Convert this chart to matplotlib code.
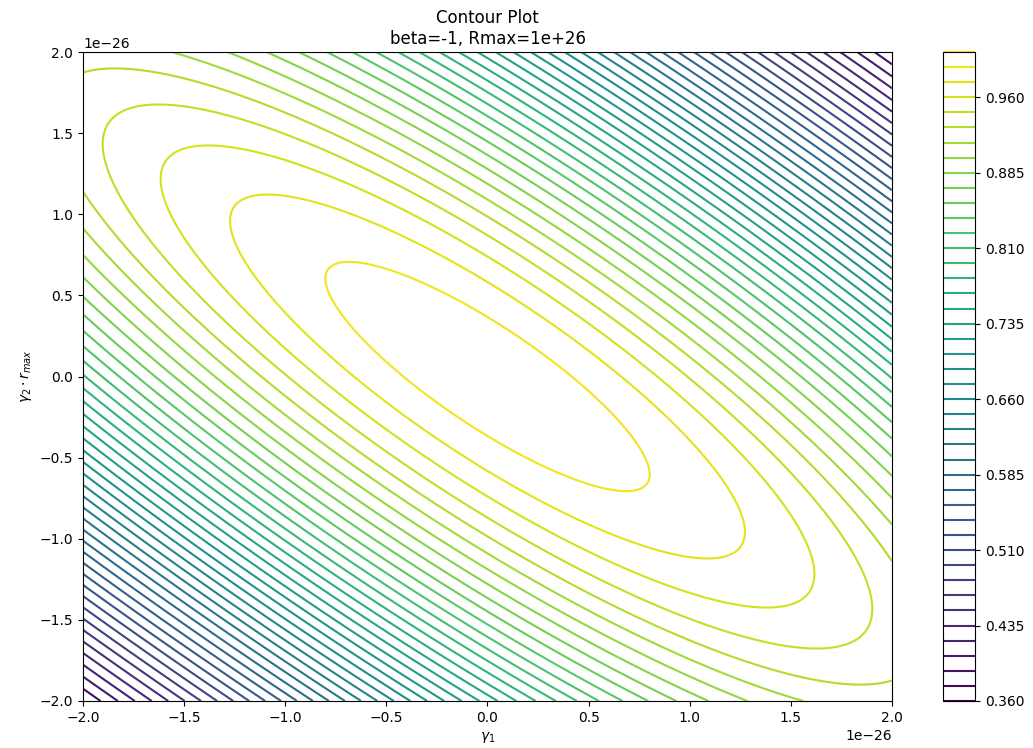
import numpy as np
import matplotlib
matplotlib.use("Agg")
import matplotlib.pyplot as plt

# ---- chart parameters ----
title_text = "Contour Plot\nbeta=-1, Rmax=1e+26"
x_label = r"$\gamma_1$"
y_label = r"$\gamma_2 \cdot r_{max}$"
scale = 1e-26                       # axis unit (offset text 1e-26)
x_range = [-2.0, 2.0]               # gamma_1 in units of 1e-26
y_range = [-2.0, 2.0]               # gamma_2*r_max in units of 1e-26
level_start, level_stop, level_step = 0.360, 1.005, 0.015
cbar_tick_every = 5

# quadratic form of the surface  f = exp(-(a x^2 + b y^2 + 2 c x y)),
# coefficients estimated from the contour positions
coef_xx = 0.0580
coef_yy = 0.0747
coef_xy = 0.05626

n = 500
xs = np.linspace(x_range[0], x_range[1], n)
ys = np.linspace(y_range[0], y_range[1], n)
X, Y = np.meshgrid(xs, ys)
Z = np.exp(-(coef_xx * X**2 + coef_yy * Y**2 + 2 * coef_xy * X * Y))

levels = np.round(np.arange(level_start, level_stop + 1e-9, level_step), 3)

fig = plt.figure(figsize=(10.33, 7.48), dpi=100)
ax = fig.add_axes([83/1033, 1 - 701/748, 809/1033, 649/748])
cax = fig.add_axes([943/1033, 1 - 701/748, 32/1033, 649/748])

cs = ax.contour(X * scale, Y * scale, Z, levels=levels, cmap="viridis")
ax.set_title(title_text)
ax.set_xlabel(x_label)
ax.set_ylabel(y_label)

cb = fig.colorbar(cs, cax=cax)
cb.set_ticks(levels[::cbar_tick_every])
cb.set_ticklabels([f"{v:.3f}" for v in levels[::cbar_tick_every]])

fig.savefig("out.png", dpi=100)
